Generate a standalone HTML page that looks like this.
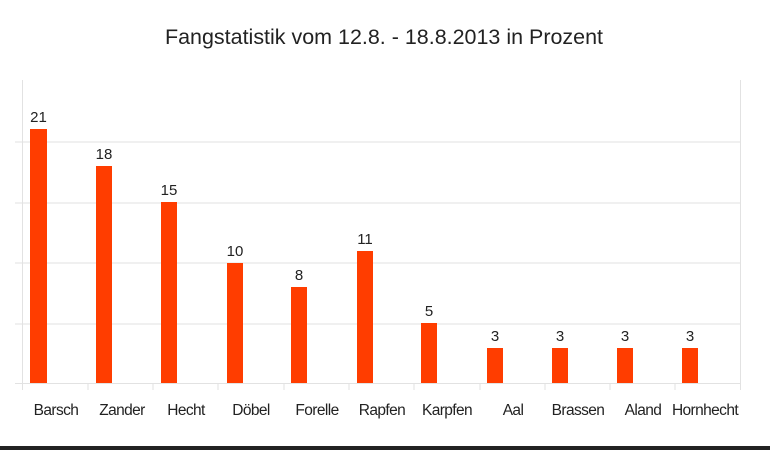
<!DOCTYPE html>
<html><head><meta charset="utf-8"><style>body{margin:0;background:#fff}svg{display:block}</style></head><body>
<svg width="770" height="450" xmlns="http://www.w3.org/2000/svg" font-family="Liberation Sans, sans-serif">
<rect width="770" height="450" fill="#fff"/>
<text x="384" y="44" font-size="21" text-anchor="middle" fill="#222" textLength="438" lengthAdjust="spacingAndGlyphs">Fangstatistik vom 12.8. - 18.8.2013 in Prozent</text>
<g stroke="#e2e2e2" stroke-width="1">
<line x1="15" y1="142" x2="740" y2="142"/>
<line x1="15" y1="203" x2="740" y2="203"/>
<line x1="15" y1="263" x2="740" y2="263"/>
<line x1="15" y1="324" x2="740" y2="324"/>
<line x1="15" y1="383.5" x2="740" y2="383.5"/>
<line x1="22.5" y1="80" x2="22.5" y2="390"/>
<line x1="740.5" y1="80" x2="740.5" y2="390"/>
<line x1="88" y1="383" x2="88" y2="390"/><line x1="153" y1="383" x2="153" y2="390"/><line x1="218" y1="383" x2="218" y2="390"/><line x1="284" y1="383" x2="284" y2="390"/><line x1="349" y1="383" x2="349" y2="390"/><line x1="414" y1="383" x2="414" y2="390"/><line x1="480" y1="383" x2="480" y2="390"/><line x1="545" y1="383" x2="545" y2="390"/><line x1="610" y1="383" x2="610" y2="390"/><line x1="675" y1="383" x2="675" y2="390"/>
</g>
<g fill="#ff3d00">
<rect x="30" y="129" width="17" height="254"/>
<rect x="96" y="166" width="16" height="217"/>
<rect x="161" y="202" width="16" height="181"/>
<rect x="227" y="263" width="16" height="120"/>
<rect x="291" y="287" width="16" height="96"/>
<rect x="357" y="251" width="16" height="132"/>
<rect x="421" y="323" width="16" height="60"/>
<rect x="487" y="348" width="16" height="35"/>
<rect x="552" y="348" width="16" height="35"/>
<rect x="617" y="348" width="16" height="35"/>
<rect x="682" y="348" width="16" height="35"/>
</g>
<g font-size="15" fill="#222" text-anchor="middle">
<text x="38.5" y="122">21</text><text x="104" y="159">18</text><text x="169" y="195">15</text><text x="235" y="256">10</text><text x="299" y="280">8</text><text x="365" y="244">11</text><text x="429" y="316">5</text><text x="495" y="341">3</text><text x="560" y="341">3</text><text x="625" y="341">3</text><text x="690" y="341">3</text>
</g>
<g font-size="15.5" fill="#222" text-anchor="middle" letter-spacing="-0.6">
<text x="56" y="415">Barsch</text><text x="122" y="415">Zander</text><text x="186" y="415">Hecht</text><text x="251" y="415">Döbel</text><text x="317" y="415">Forelle</text><text x="382" y="415">Rapfen</text><text x="447" y="415">Karpfen</text><text x="513" y="415">Aal</text><text x="578" y="415">Brassen</text><text x="643" y="415">Aland</text><text x="705" y="415">Hornhecht</text>
</g>
<rect x="0" y="446" width="770" height="4" fill="#222"/>
</svg>
</body></html>
